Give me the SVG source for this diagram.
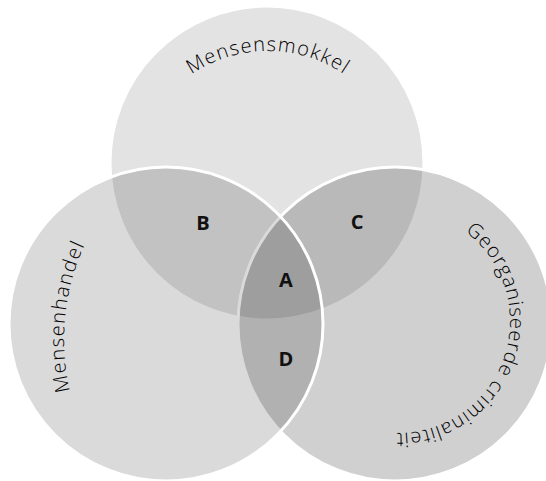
<svg xmlns="http://www.w3.org/2000/svg" width="546" height="481" viewBox="0 0 546 481">
  <defs>
    <style>
      .set { fill: #000; stroke: #fff; stroke-width: 3; }
      .lbl { font-family: "Open Sans", "Noto Sans", "DejaVu Sans", sans-serif; font-size: 20px; font-weight: 300; fill: #000; }
      .reg { font-family: "Open Sans", "Noto Sans", "DejaVu Sans", sans-serif; font-size: 20px; font-weight: bold; fill: #111; text-anchor: middle; }
    </style>
    <path id="arcTop" d="M 132,187 A 136,136 0 0 1 404,187"/>
    <path id="arcLeft" d="M 294,570 A 230,230 0 0 1 294,110"/>
    <path id="arcRight" d="M 398,209 A 112,112 0 1 1 286,321"/>
  </defs>
  <rect width="546" height="481" fill="#fff"/>
  <g id="node-mensensmokkel">
    <circle class="set" cx="267" cy="163" r="157" fill-opacity="0.11"/>
  </g>
  <g id="node-georganiseerde-criminaliteit">
    <circle class="set" cx="395" cy="324" r="157" fill-opacity="0.184"/>
  </g>
  <g id="node-mensenhandel">
    <circle class="set" cx="166" cy="324" r="157" fill-opacity="0.145"/>
  </g>
  <g id="labels">
    <text class="lbl" text-anchor="middle" letter-spacing="1.3"><textPath href="#arcTop" startOffset="50%">Mensensmokkel</textPath></text>
    <text class="lbl" text-anchor="middle" letter-spacing="1.4"><textPath href="#arcLeft" startOffset="53.3%">Mensenhandel</textPath></text>
    <text class="lbl" text-anchor="middle" letter-spacing="1.0"><textPath href="#arcRight" startOffset="40.4%">Georganiseerde criminaliteit</textPath></text>
  </g>
  <g id="regions">
    <text class="reg" x="203" y="230">B</text>
    <text class="reg" x="357" y="229">C</text>
    <text class="reg" x="286" y="287">A</text>
    <text class="reg" x="286" y="366">D</text>
  </g>
</svg>
